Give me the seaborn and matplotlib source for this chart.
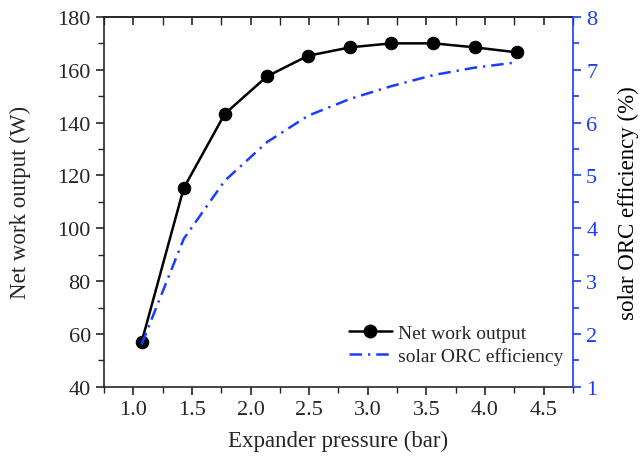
import pandas as pd
import matplotlib.pyplot as plt
import numpy as np
import seaborn as sns
from matplotlib.ticker import MultipleLocator
from matplotlib.lines import Line2D

pressure = [1.07, 1.43, 1.78, 2.14, 2.49, 2.85, 3.20, 3.56, 3.91, 4.27]
net_work = [56.8, 115.2, 143.3, 157.5, 165.3, 168.5, 170.0, 170.0, 168.5, 166.6]
efficiency = [1.80, 3.80, 4.90, 5.63, 6.13, 6.45, 6.69, 6.90, 7.04, 7.14]

blue = "#1a3cff"

sns.set_style("ticks")
plt.rcParams["font.family"] = ["Liberation Serif", "DejaVu Serif"]

df = pd.DataFrame({"p": pressure, "w": net_work, "eta": efficiency})

fig = plt.figure(figsize=(6.4, 4.6), dpi=100)
ax = fig.add_axes([0.1625, 0.157, 0.7328, 0.804])
ax2 = ax.twinx()

sns.lineplot(data=df, x="p", y="w", ax=ax, color="black", lw=1.8,
             marker="o", markersize=9, markeredgecolor="black")
sns.lineplot(data=df, x="p", y="eta", ax=ax2, color=blue, lw=1.8)
ax2.lines[0].set_dashes((5, 2.4, 0.9, 2.4))

ax.set_xlim(0.75, 4.75)
ax.set_ylim(40, 180)
ax2.set_ylim(1, 8)

ax.xaxis.set_major_locator(MultipleLocator(0.5))
ax.xaxis.set_minor_locator(MultipleLocator(0.25))
ax.yaxis.set_major_locator(MultipleLocator(20))
ax.yaxis.set_minor_locator(MultipleLocator(10))
ax2.yaxis.set_major_locator(MultipleLocator(1))
ax2.yaxis.set_minor_locator(MultipleLocator(0.5))
ax.xaxis.set_major_formatter(plt.FuncFormatter(lambda v, _: f"{v:.1f}"))

ax.tick_params(axis="both", which="both", direction="out", labelsize=16)
ax.tick_params(which="major", length=6, width=1.2)
ax.tick_params(which="minor", length=4, width=1.0)
ax2.tick_params(axis="y", which="both", colors=blue, labelsize=16, width=1.2)
ax2.tick_params(which="major", length=6)
ax2.tick_params(which="minor", length=4)

# inward ticks on the top edge
top = ax.secondary_xaxis("top")
top.xaxis.set_major_locator(MultipleLocator(0.5))
top.xaxis.set_minor_locator(MultipleLocator(0.25))
top.tick_params(which="both", direction="in", labeltop=False, width=1.2)
top.tick_params(which="major", length=6)
top.tick_params(which="minor", length=6, width=1.0)
top.spines["top"].set_linewidth(1.2)

for s in ["left", "bottom", "top"]:
    ax.spines[s].set_linewidth(1.2)
for s in ["left", "bottom", "top"]:
    ax2.spines[s].set_visible(False)
ax2.spines["right"].set_color(blue)
ax2.spines["right"].set_linewidth(1.2)
ax.spines["right"].set_visible(False)

ax.set_xlabel("Expander pressure (bar)", fontsize=16.5, labelpad=8)
ax.set_ylabel("Net work output (W)", fontsize=16.5, labelpad=19)
ax2.set_ylabel("solar ORC efficiency (%)", fontsize=16.5, labelpad=15, color="black")

handles = [
    Line2D([], [], color="black", lw=1.8, marker="o", markersize=9),
    Line2D([], [], color=blue, lw=1.8, dashes=(5, 2.4, 0.9, 2.4)),
]
ax2.legend(handles, ["Net work output", "solar ORC efficiency"], loc="lower right",
           bbox_to_anchor=(1.016, 0.012), frameon=False, fontsize=14,
           handlelength=2.2, handletextpad=0.3, labelspacing=0.25)

fig.savefig("out.png", dpi=100)
